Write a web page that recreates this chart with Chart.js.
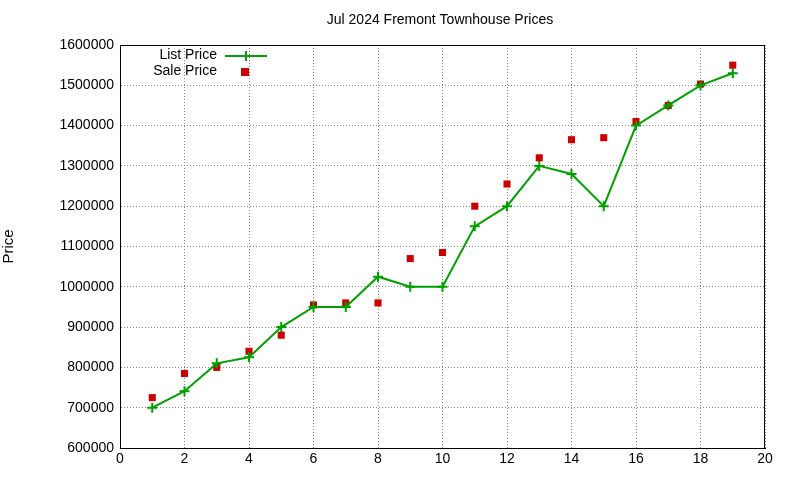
<!DOCTYPE html>
<html><head><meta charset="utf-8">
<script src="https://cdn.jsdelivr.net/npm/chart.js@4/dist/chart.umd.min.js"></script>
<style>html,body{margin:0;padding:0;background:#fff}#w{width:800px;height:480px}</style>
</head><body><div id="w"><canvas id="c"></canvas></div>
<script>
const xs = [1,2,3,4,5,6,7,8,9,10,11,12,13,14,15,16,17,18,19];
const listPrice = [700000,741000,810000,825000,900000,950000,950000,1025000,1000000,1000000,1150000,1200000,1300000,1280000,1200000,1400000,1450000,1500000,1530000];
const salePrice = [725000,785000,800000,840000,880000,955000,960000,960000,1070000,1085000,1200000,1255000,1320000,1365000,1370000,1410000,1450000,1503000,1550000];
const titleText = 'Jul 2024 Fremont Townhouse Prices';
const FONT = '"Liberation Sans", Arial, sans-serif';
const GREEN = '#00a000', RED = '#cc0000';
const extras = {
  id:'extras',
  afterDraw(ch){
    const c=ch.ctx, a=ch.chartArea;
    c.save();
    c.strokeStyle='#000'; c.lineWidth=1;
    c.strokeRect(a.left+0.5,a.top+0.5,a.right-a.left-1,a.bottom-a.top);
    c.fillStyle='#000'; c.font='14px '+FONT; c.textAlign='center'; c.textBaseline='middle';
    c.fillText(titleText,440,20);
    c.textAlign='right';
    c.fillText('List Price',217,55);
    c.fillText('Sale Price',217,71);
    c.strokeStyle=GREEN; c.lineWidth=2;
    c.beginPath(); c.moveTo(225,56); c.lineTo(267,56); c.moveTo(246,51); c.lineTo(246,61); c.moveTo(241,56); c.lineTo(251,56); c.stroke();
    c.fillStyle=RED; c.fillRect(241,68,8,8);
    c.restore();
  }
};
new Chart(document.getElementById('c'),{
  type:'scatter',
  data:{datasets:[
    {label:'List Price',data:xs.map((x,i)=>({x,y:listPrice[i]})),showLine:true,borderColor:GREEN,backgroundColor:GREEN,borderWidth:2,pointStyle:'cross',pointRadius:5,pointBorderWidth:2},
    {label:'Sale Price',data:xs.map((x,i)=>({x,y:salePrice[i]})),borderColor:RED,backgroundColor:RED,pointStyle:'rect',pointRadius:5,pointBorderWidth:0}
  ]},
  options:{
    animation:false,responsive:true,maintainAspectRatio:false,
    layout:{padding:{top:45,right:35,left:0,bottom:0}},
    plugins:{legend:{display:false},tooltip:{enabled:false},title:{display:false}},
    scales:{
      x:{type:'linear',min:0,max:20,ticks:{stepSize:2,color:'#000',font:{family:FONT,size:14},maxRotation:0},
         grid:{color:'#888',tickLength:0},border:{display:true,color:'#000',dash:[1,2]},
         afterFit(s){s.height=32;}},
      y:{min:600000,max:1600000,ticks:{stepSize:100000,color:'#000',font:{family:FONT,size:14},padding:6,callback:v=>String(v)},
         grid:{color:'#888',tickLength:0},border:{display:true,color:'#000',dash:[1,2]},
         title:{display:true,text:'Price',color:'#000',font:{family:FONT,size:15},padding:{top:0,bottom:20}},
         afterFit(s){s.width=120;}}
    }
  },
  plugins:[extras]
});
</script></body></html>
